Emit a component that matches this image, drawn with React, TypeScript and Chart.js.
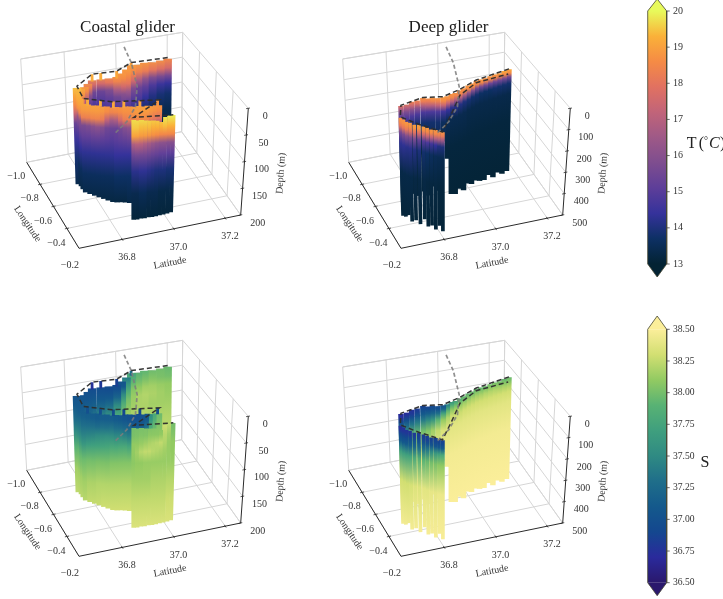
import React, { useEffect, useRef } from "react";
import { Chart, registerables } from "chart.js";

Chart.register(...registerables);

// ---------- axis ticks ----------
const latTicks = [36.8, 37.0, 37.2];
const lonTicks = [-1.0, -0.8, -0.6, -0.4];
const lonLabels = [-1.0, -0.8, -0.6, -0.4, -0.2];
const coastalDepthTicks = [0, 50, 100, 150, 200];
const deepDepthTicks = [0, 100, 200, 300, 400, 500];
const tempTicks = [13, 14, 15, 16, 17, 18, 19, 20];
const salTicks = [36.5, 36.75, 37.0, 37.25, 37.5, 37.75, 38.0, 38.25, 38.5];

// ---------- coast and glider tracks ----------
const coastLat = [37.019, 37.001, 36.957, 36.9, 36.834, 36.766];
const coastLon = [-0.955, -0.804, -0.579, -0.402, -0.279, -0.191];
const coastalTrackLat = [37.137, 37.001, 36.929, 36.838, 36.757, 36.748, 36.835, 36.996, 36.868, 37.002];
const coastalTrackLon = [-0.795, -0.804, -0.749, -0.758, -0.672, -0.552, -0.481, -0.427, -0.308, -0.272];
const deepTrackLat = [37.17, 37.031, 36.952, 36.878, 36.809, 36.717, 36.687, 36.73, 36.789, 36.864, 36.938, 37.024, 37.153];
const deepTrackLon = [-0.665, -0.613, -0.554, -0.513, -0.536, -0.498, -0.394, -0.301, -0.198, -0.35, -0.502, -0.589, -0.62];

// ---------- coastal glider sections ----------
const coastalLevels = [0, 20, 35, 50, 70, 100, 140, 190];

const coastalFarLat = [37.137, 37.11, 37.08, 37.05, 37.025, 37.001, 36.977, 36.953, 36.929, 36.9, 36.87, 36.838, 36.815, 36.795, 36.775, 36.757];
const coastalFarLon = [-0.795, -0.797, -0.799, -0.801, -0.803, -0.804, -0.786, -0.767, -0.749, -0.752, -0.755, -0.758, -0.734, -0.71, -0.69, -0.672];
const coastalFarStart = [2, 4, 5, 4, 6, 5, 8, 10, 11, 12, 12, 12, 12, 12, 10, 3];
const coastalFarMax = [170, 172, 175, 175, 178, 178, 180, 180, 182, 182, 182, 184, 184, 185, 185, 185];
const coastalFarT = [
  [18.6, 17.6, 15.6, 14.4, 13.8, 13.4, 13.2, 13.1],
  [18.8, 17.8, 15.7, 14.5, 13.9, 13.4, 13.2, 13.1],
  [18.8, 18.0, 15.8, 14.8, 14.1, 13.5, 13.2, 13.1],
  [18.9, 18.2, 16.2, 15.2, 14.4, 13.6, 13.3, 13.2],
  [19.0, 18.3, 16.8, 15.4, 14.8, 14.0, 13.5, 13.2],
  [19.0, 18.5, 17.6, 15.8, 15.0, 14.2, 13.6, 13.2],
  [19.1, 18.6, 18.0, 16.5, 15.2, 14.3, 13.7, 13.3],
  [19.1, 18.6, 17.6, 16.0, 15.2, 14.3, 13.7, 13.3],
  [19.1, 18.4, 16.8, 15.5, 15.0, 14.3, 13.7, 13.3],
  [19.0, 18.0, 15.8, 15.2, 14.8, 14.2, 13.7, 13.3],
  [19.0, 17.6, 15.4, 15.0, 14.7, 14.2, 13.7, 13.3],
  [19.1, 17.6, 15.5, 15.0, 14.7, 14.2, 13.7, 13.3],
  [19.2, 18.2, 16.0, 15.2, 14.8, 14.3, 13.7, 13.3],
  [19.3, 18.6, 17.0, 15.4, 14.9, 14.3, 13.8, 13.3],
  [19.4, 18.8, 17.8, 15.8, 15.0, 14.4, 13.8, 13.3],
  [19.5, 19.0, 18.6, 17.5, 15.4, 14.5, 13.8, 13.3],
];
const coastalFarS = [
  [37.95, 38.0, 38.1, 38.12, 38.15, 38.2, 38.25, 38.3],
  [37.98, 38.02, 38.12, 38.15, 38.15, 38.2, 38.25, 38.3],
  [37.95, 38.05, 38.15, 38.18, 38.15, 38.2, 38.25, 38.3],
  [37.9, 38.02, 38.15, 38.2, 38.18, 38.2, 38.25, 38.3],
  [37.85, 37.98, 38.1, 38.18, 38.18, 38.2, 38.25, 38.3],
  [37.7, 37.9, 38.05, 38.12, 38.15, 38.2, 38.25, 38.3],
  [37.2, 37.6, 37.85, 38.0, 38.1, 38.2, 38.25, 38.3],
  [36.95, 37.1, 37.5, 37.8, 38.0, 38.15, 38.25, 38.3],
  [36.9, 37.0, 37.2, 37.5, 37.8, 38.1, 38.2, 38.3],
  [36.92, 36.98, 37.1, 37.3, 37.6, 38.0, 38.2, 38.3],
  [36.9, 37.0, 37.1, 37.25, 37.5, 37.95, 38.2, 38.3],
  [36.88, 37.0, 37.1, 37.2, 37.4, 37.9, 38.15, 38.25],
  [36.95, 37.02, 37.12, 37.2, 37.4, 37.85, 38.15, 38.25],
  [36.98, 37.05, 37.15, 37.25, 37.4, 37.85, 38.15, 38.25],
  [37.0, 37.08, 37.15, 37.25, 37.45, 37.85, 38.15, 38.25],
  [37.02, 37.1, 37.2, 37.3, 37.5, 37.9, 38.15, 38.25],
];

const coastalMidLat = [36.755, 36.75, 36.748, 36.762, 36.777, 36.791, 36.806, 36.82, 36.835, 36.85, 36.865, 36.88, 36.895, 36.91, 36.925, 36.94, 36.955, 36.97, 36.983, 36.996];
const coastalMidLon = [-0.64, -0.595, -0.552, -0.54, -0.528, -0.516, -0.504, -0.493, -0.481, -0.476, -0.471, -0.466, -0.46, -0.455, -0.45, -0.445, -0.44, -0.435, -0.431, -0.427];
const coastalMidStart = [6, 9, 10, 10, 11, 10, 11, 10, 11, 10, 11, 10, 10, 11, 10, 11, 10, 11, 10, 10];
const coastalMidMax = [182, 178, 175, 177, 179, 181, 183, 185, 187, 188, 188, 189, 190, 190, 190, 189, 188, 187, 186, 185];
const coastalMidT = [
  [19.4, 19.1, 18.7, 16.4, 15.3, 14.4, 13.6, 13.2],
  [19.3, 19.0, 18.5, 16.0, 15.3, 14.4, 13.6, 13.2],
  [19.2, 18.9, 18.3, 15.7, 15.2, 14.3, 13.6, 13.2],
  [19.2, 18.9, 18.3, 15.8, 15.2, 14.3, 13.6, 13.2],
  [19.2, 18.9, 18.4, 16.0, 15.3, 14.3, 13.6, 13.2],
  [19.1, 18.9, 18.4, 16.1, 15.3, 14.3, 13.6, 13.2],
  [19.1, 18.8, 18.2, 15.9, 15.2, 14.3, 13.6, 13.2],
  [19.0, 18.6, 17.2, 15.5, 15.1, 14.3, 13.6, 13.2],
  [19.0, 18.4, 16.6, 15.4, 15.0, 14.3, 13.6, 13.2],
  [19.0, 18.5, 16.8, 15.4, 15.1, 14.4, 13.7, 13.2],
  [19.0, 18.6, 17.6, 15.6, 15.2, 14.4, 13.7, 13.2],
  [19.0, 18.7, 18.2, 15.9, 15.3, 14.4, 13.7, 13.2],
  [19.0, 18.7, 18.3, 16.1, 15.4, 14.4, 13.7, 13.3],
  [19.1, 18.8, 18.4, 16.4, 15.5, 14.5, 13.7, 13.3],
  [19.1, 18.9, 18.5, 16.8, 15.6, 14.6, 13.7, 13.3],
  [19.1, 18.9, 18.5, 16.9, 15.7, 14.6, 13.7, 13.3],
  [19.1, 18.9, 18.5, 16.6, 15.5, 14.5, 13.6, 13.3],
  [19.0, 18.8, 18.2, 16.1, 15.3, 14.3, 13.6, 13.2],
  [19.0, 18.7, 18.0, 15.9, 15.1, 14.2, 13.5, 13.2],
  [18.9, 18.6, 17.8, 15.7, 15.0, 14.0, 13.5, 13.2],
];
const coastalMidS = [
  [37.05, 37.12, 37.2, 37.35, 37.55, 37.95, 38.15, 38.25],
  [37.05, 37.15, 37.28, 37.4, 37.6, 37.95, 38.15, 38.25],
  [37.08, 37.18, 37.3, 37.42, 37.62, 37.98, 38.15, 38.25],
  [37.1, 37.16, 37.3, 37.44, 37.68, 38.0, 38.18, 38.28],
  [37.1, 37.14, 37.3, 37.46, 37.7, 38.0, 38.18, 38.28],
  [37.1, 37.12, 37.28, 37.5, 37.72, 38.02, 38.2, 38.28],
  [37.12, 37.15, 37.32, 37.52, 37.74, 38.02, 38.2, 38.3],
  [37.12, 37.15, 37.32, 37.55, 37.76, 38.02, 38.2, 38.3],
  [37.1, 37.15, 37.35, 37.55, 37.8, 38.05, 38.2, 38.3],
  [37.08, 37.12, 37.3, 37.5, 37.78, 38.05, 38.2, 38.3],
  [37.04, 37.1, 37.28, 37.5, 37.8, 38.05, 38.2, 38.3],
  [37.0, 37.06, 37.24, 37.46, 37.8, 38.05, 38.2, 38.3],
  [36.98, 37.02, 37.2, 37.4, 37.75, 38.05, 38.2, 38.3],
  [36.95, 37.0, 37.14, 37.36, 37.75, 38.05, 38.2, 38.28],
  [36.95, 37.0, 37.12, 37.4, 37.85, 38.1, 38.2, 38.3],
  [36.96, 37.02, 37.15, 37.5, 37.9, 38.1, 38.2, 38.3],
  [37.0, 37.08, 37.3, 37.7, 37.95, 38.1, 38.2, 38.3],
  [37.4, 37.6, 37.8, 37.95, 38.02, 38.12, 38.2, 38.3],
  [37.7, 37.85, 37.95, 38.02, 38.06, 38.14, 38.22, 38.3],
  [37.95, 38.0, 38.05, 38.08, 38.1, 38.15, 38.22, 38.3],
];

const coastalNearLat = [36.868, 36.881, 36.895, 36.908, 36.922, 36.935, 36.948, 36.962, 36.975, 36.989, 37.002];
const coastalNearLon = [-0.308, -0.304, -0.301, -0.297, -0.294, -0.29, -0.286, -0.283, -0.279, -0.276, -0.272];
const coastalNearStart = [5, 6, 6, 7, 8, 8, 9, 12, 3, 1, 0];
const coastalNearMax = [188, 188, 187, 187, 186, 186, 185, 184, 183, 182, 180];
const coastalNearT = [
  [19.8, 19.5, 19.0, 16.8, 15.5, 14.2, 13.4, 13.1],
  [19.8, 19.5, 19.0, 17.0, 15.6, 14.2, 13.4, 13.1],
  [19.8, 19.4, 18.9, 17.0, 15.6, 14.3, 13.5, 13.1],
  [19.8, 19.4, 18.9, 16.8, 15.6, 14.3, 13.5, 13.1],
  [19.7, 19.4, 18.8, 16.6, 15.5, 14.2, 13.4, 13.1],
  [19.7, 19.3, 18.7, 16.4, 15.4, 14.1, 13.4, 13.1],
  [19.7, 19.3, 18.6, 16.2, 15.3, 14.0, 13.4, 13.1],
  [19.7, 19.3, 18.5, 16.1, 15.2, 14.0, 13.3, 13.1],
  [19.9, 19.4, 18.5, 16.1, 15.2, 14.0, 13.3, 13.1],
  [19.9, 19.3, 18.5, 16.0, 15.1, 13.9, 13.3, 13.1],
  [19.9, 19.3, 18.5, 16.0, 15.1, 13.9, 13.3, 13.1],
];
const coastalNearS = [
  [38.0, 38.02, 38.1, 38.1, 38.08, 38.15, 38.25, 38.35],
  [38.0, 38.03, 38.1, 38.15, 38.1, 38.15, 38.25, 38.35],
  [38.0, 38.05, 38.12, 38.22, 38.1, 38.15, 38.25, 38.35],
  [38.02, 38.05, 38.15, 38.25, 38.12, 38.15, 38.25, 38.35],
  [38.02, 38.08, 38.18, 38.25, 38.12, 38.15, 38.25, 38.35],
  [38.03, 38.08, 38.2, 38.22, 38.12, 38.18, 38.25, 38.35],
  [38.05, 38.08, 38.22, 38.2, 38.12, 38.18, 38.25, 38.35],
  [38.05, 38.1, 38.25, 38.18, 38.12, 38.18, 38.25, 38.35],
  [38.3, 38.22, 38.2, 38.15, 38.12, 38.18, 38.25, 38.35],
  [38.25, 38.15, 38.12, 38.12, 38.12, 38.2, 38.28, 38.35],
  [38.0, 38.05, 38.1, 38.1, 38.12, 38.2, 38.28, 38.35],
];

// narrow surface profiles standing above the coastal sections
const coastalSpikeLat = [36.838, 36.87, 36.929, 37.0, 36.76, 36.8, 36.84, 36.875, 36.93, 36.99];
const coastalSpikeLon = [-0.758, -0.755, -0.749, -0.804, -0.54, -0.51, -0.48, -0.467, -0.45, -0.43];
const coastalSpikeEnd = [14, 14, 14, 10, 12, 12, 12, 12, 12, 12];
const coastalSpikeT = [19.2, 19.2, 19.1, 19.0, 19.2, 19.2, 19.1, 19.1, 19.1, 18.8];
const coastalSpikeS = [36.75, 36.8, 36.85, 37.3, 37.0, 37.0, 36.95, 36.9, 36.9, 36.95];

// ---------- deep glider sections ----------
const deepLevels = [0, 20, 40, 70, 120, 250, 500];

const deepFarLat = [37.17, 37.15, 37.13, 37.11, 37.09, 37.07, 37.05, 37.031, 37.012, 36.992, 36.972, 36.952, 36.932, 36.914, 36.896, 36.878, 36.86, 36.842, 36.826, 36.809, 36.785, 36.762, 36.74, 36.717];
const deepFarLon = [-0.665, -0.658, -0.651, -0.644, -0.636, -0.628, -0.62, -0.613, -0.599, -0.584, -0.569, -0.554, -0.544, -0.534, -0.524, -0.513, -0.519, -0.527, -0.532, -0.536, -0.527, -0.517, -0.507, -0.498];
const deepFarStart = [2, 3, 6, 4, 5, 6, 4, 5, 6, 4, 6, 5, 8, 5, 7, 3, 6, 3, 7, 3, 5, 2, 6, 3];
const deepFarMax = [495, 500, 485, 500, 480, 495, 490, 480, 485, 470, 490, 470, 485, 475, 300, 210, 440, 420, 460, 440, 450, 430, 440, 450];
const deepFarT = [
  [19.2, 18.6, 15.5, 13.8, 13.35, 13.15, 13.05],
  [19.3, 18.6, 15.6, 13.8, 13.35, 13.15, 13.05],
  [19.2, 18.5, 15.5, 13.8, 13.35, 13.15, 13.05],
  [19.0, 18.4, 15.4, 13.8, 13.35, 13.15, 13.05],
  [19.0, 18.4, 15.4, 13.7, 13.35, 13.15, 13.05],
  [18.9, 18.4, 15.5, 13.7, 13.35, 13.15, 13.05],
  [18.9, 18.5, 15.5, 13.7, 13.35, 13.15, 13.05],
  [18.9, 18.5, 15.7, 13.8, 13.35, 13.15, 13.05],
  [18.9, 18.6, 15.9, 13.8, 13.35, 13.15, 13.05],
  [18.9, 18.6, 16.2, 13.9, 13.35, 13.15, 13.05],
  [18.8, 18.6, 16.5, 14.0, 13.4, 13.15, 13.05],
  [18.8, 18.5, 16.8, 14.1, 13.4, 13.15, 13.05],
  [18.8, 18.5, 17.0, 14.2, 13.4, 13.15, 13.05],
  [18.8, 18.5, 17.0, 14.2, 13.4, 13.15, 13.05],
  [18.9, 18.6, 17.2, 14.4, 13.5, 13.15, 13.05],
  [18.9, 18.6, 17.4, 14.6, 13.6, 13.2, 13.05],
  [18.9, 18.4, 17.2, 14.8, 13.8, 13.2, 13.05],
  [18.9, 18.4, 17.0, 14.8, 13.8, 13.2, 13.05],
  [18.8, 18.2, 17.0, 14.8, 13.8, 13.2, 13.05],
  [18.8, 18.2, 16.8, 14.8, 13.8, 13.2, 13.05],
  [18.6, 17.8, 16.2, 14.8, 13.8, 13.2, 13.05],
  [18.4, 17.4, 16.0, 14.8, 13.8, 13.2, 13.05],
  [18.2, 17.0, 15.8, 14.8, 13.8, 13.2, 13.05],
  [18.0, 16.8, 15.6, 14.8, 13.8, 13.2, 13.05],
];
const deepFarS = [
  [37.95, 38.05, 38.18, 38.3, 38.38, 38.46, 38.5],
  [37.92, 38.05, 38.18, 38.3, 38.38, 38.46, 38.5],
  [37.95, 38.06, 38.18, 38.3, 38.38, 38.46, 38.5],
  [37.98, 38.08, 38.2, 38.3, 38.38, 38.46, 38.5],
  [37.95, 38.08, 38.2, 38.3, 38.38, 38.46, 38.5],
  [37.9, 38.06, 38.2, 38.3, 38.38, 38.46, 38.5],
  [37.9, 38.05, 38.18, 38.3, 38.38, 38.46, 38.5],
  [37.88, 38.05, 38.18, 38.3, 38.38, 38.46, 38.5],
  [37.9, 38.05, 38.18, 38.3, 38.38, 38.46, 38.5],
  [37.88, 38.02, 38.18, 38.3, 38.38, 38.46, 38.5],
  [37.85, 38.0, 38.16, 38.3, 38.38, 38.46, 38.5],
  [37.8, 37.98, 38.14, 38.28, 38.38, 38.46, 38.5],
  [37.65, 37.9, 38.1, 38.28, 38.38, 38.46, 38.5],
  [37.55, 37.85, 38.08, 38.28, 38.38, 38.46, 38.5],
  [37.3, 37.6, 37.95, 38.2, 38.36, 38.46, 38.5],
  [37.0, 37.2, 37.7, 38.1, 38.34, 38.46, 38.5],
  [36.95, 37.0, 37.3, 37.9, 38.25, 38.45, 38.5],
  [36.9, 37.0, 37.2, 37.6, 38.15, 38.42, 38.5],
  [36.85, 36.95, 37.15, 37.5, 38.05, 38.4, 38.48],
  [36.85, 36.95, 37.1, 37.4, 38.0, 38.38, 38.48],
  [36.8, 36.85, 37.05, 37.4, 37.95, 38.38, 38.48],
  [36.75, 36.8, 37.0, 37.35, 37.95, 38.38, 38.48],
  [36.7, 36.78, 36.95, 37.3, 37.9, 38.38, 38.48],
  [36.7, 36.75, 36.9, 37.25, 37.85, 38.38, 38.48],
];

const deepNearLat = [36.687, 36.692, 36.698, 36.706, 36.717, 36.73, 36.742, 36.75, 36.76, 36.77, 36.78, 36.789];
const deepNearLon = [-0.394, -0.37, -0.35, -0.332, -0.315, -0.301, -0.282, -0.262, -0.245, -0.228, -0.212, -0.198];
const deepNearStart = [4, 2, 5, 3, 6, 2, 4, 3, 5, 2, 4, 2];
const deepNearMax = [452, 445, 430, 452, 440, 454, 425, 450, 440, 452, 430, 450];
const deepNearT = [
  [18.8, 18.6, 18.0, 15.6, 14.3, 13.3, 13.05],
  [18.8, 18.6, 18.0, 15.7, 14.3, 13.3, 13.05],
  [18.9, 18.7, 18.1, 15.8, 14.2, 13.3, 13.05],
  [18.9, 18.7, 18.0, 15.7, 14.2, 13.3, 13.05],
  [19.0, 18.8, 18.0, 15.8, 14.1, 13.25, 13.05],
  [19.0, 18.8, 17.8, 15.4, 14.0, 13.25, 13.05],
  [19.0, 18.7, 17.6, 15.0, 13.8, 13.25, 13.05],
  [18.9, 18.6, 17.4, 14.8, 13.7, 13.2, 13.05],
  [18.9, 18.6, 17.2, 14.6, 13.6, 13.2, 13.05],
  [18.8, 18.5, 17.0, 14.4, 13.5, 13.2, 13.05],
  [18.8, 18.3, 16.8, 14.1, 13.45, 13.15, 13.05],
  [18.8, 18.2, 16.5, 14.0, 13.4, 13.15, 13.05],
];
const deepNearS = [
  [36.7, 36.75, 36.9, 37.1, 37.7, 38.3, 38.5],
  [36.72, 36.78, 36.9, 37.1, 37.7, 38.3, 38.5],
  [36.75, 36.8, 36.92, 37.12, 37.72, 38.3, 38.5],
  [36.75, 36.8, 36.95, 37.15, 37.75, 38.32, 38.5],
  [36.78, 36.82, 36.98, 37.2, 37.8, 38.35, 38.5],
  [36.8, 36.85, 37.0, 37.25, 37.85, 38.35, 38.5],
  [36.8, 36.85, 37.0, 37.3, 37.9, 38.38, 38.5],
  [36.82, 36.85, 37.02, 37.4, 37.95, 38.38, 38.5],
  [36.82, 36.88, 37.05, 37.5, 38.0, 38.4, 38.5],
  [36.85, 36.9, 37.05, 37.6, 38.02, 38.4, 38.5],
  [36.85, 36.9, 37.08, 37.7, 38.08, 38.42, 38.5],
  [36.85, 36.9, 37.1, 37.8, 38.1, 38.42, 38.5],
];

// ---------- colour maps (style) ----------
const thermal = ["#032333", "#0d3064", "#35329b", "#5d3e99", "#7e4d8f", "#9e5987", "#c16479", "#e17161", "#f58b45", "#fab139", "#e8fa5b"];
const haline = ["#2a186c", "#2a2a9c", "#14478f", "#14598c", "#1f6e8a", "#2f8a83", "#3f9f7e", "#58b274", "#92ca62", "#d2df72", "#fbee9a"];

const hex = (h: string) => [1, 3, 5].map((i) => parseInt(h.slice(i, i + 2), 16));
function colourAt(value: number, lo: number, hi: number, map: string[]) {
  const t = Math.max(0, Math.min(1, (value - lo) / (hi - lo))) * (map.length - 1);
  const i = Math.min(map.length - 2, Math.floor(t));
  const a = hex(map[i]);
  const b = hex(map[i + 1]);
  const f = t - i;
  return `rgb(${a.map((v, k) => Math.round(v + (b[k] - v) * f)).join(",")})`;
}

// ---------- 3-D box layout (pixel corners of the first panel) ----------
const LAT0 = 36.632, LAT1 = 37.26, LON0 = -1.0, LON1 = -0.22;
const TOP = { c: [20.7, 59], d: [182.7, 32.3], a: [75.7, 136.7], b: [248.3, 108.3] };
const BOT = { c: [26.7, 162.3], d: [181.7, 131.7], a: [79, 248.3], b: [240.7, 215] };

type Panel = { ox: number; oy: number; zMax: number };
const lerp = (p: number, q: number, t: number) => p + (q - p) * t;
function project(panel: Panel, lat: number, lon: number, depth: number) {
  const u = (lat - LAT0) / (LAT1 - LAT0);
  const v = (lon - LON0) / (LON1 - LON0);
  const w = depth / panel.zMax;
  const out = [0, 1].map((k) => {
    const top = lerp(lerp(TOP.c[k], TOP.d[k], u), lerp(TOP.a[k], TOP.b[k], u), v);
    const bot = lerp(lerp(BOT.c[k], BOT.d[k], u), lerp(BOT.a[k], BOT.b[k], u), v);
    return lerp(top, bot, w);
  });
  return { x: out[0] + panel.ox, y: out[1] + panel.oy };
}

export default function App() {
  const ref = useRef<HTMLCanvasElement>(null);
  useEffect(() => {
    document.body.style.margin = "0";
    const canvas = ref.current!;
    const g = canvas.getContext("2d")!;
    const ds: any[] = [];
    const line = (data: any[], color: any, width: number, extra: any = {}) =>
      ds.push({ data, borderColor: color, borderWidth: width, pointRadius: 0, tension: 0, fill: false, borderCapStyle: "butt", ...extra });

    const frame = (p: Panel, depthTicks: number[]) => {
      const grid = "#d6d6d6";
      const seg = (a: number[], b: number[]) => line([project(p, a[0], a[1], a[2]), project(p, b[0], b[1], b[2])], grid, 1);
      const zb = p.zMax;
      depthTicks.forEach((d) => {
        seg([LAT0, LON0, d], [LAT1, LON0, d]);
        seg([LAT1, LON0, d], [LAT1, LON1, d]);
      });
      [LAT0, ...latTicks].forEach((la) => {
        seg([la, LON0, 0], [la, LON0, zb]);
        seg([la, LON0, zb], [la, LON1, zb]);
      });
      [LAT1].forEach((la) => seg([la, LON0, 0], [la, LON0, zb]));
      lonTicks.forEach((lo) => {
        seg([LAT1, lo, 0], [LAT1, lo, zb]);
        seg([LAT0, lo, zb], [LAT1, lo, zb]);
      });
      seg([LAT0, LON0, 0], [LAT1, LON0, 0]);
      seg([LAT1, LON0, zb], [LAT1, LON1, zb]);
      // dark axes
      const dark = "#2b2b2b";
      const axis = (a: number[], b: number[], w = 1) => line([project(p, a[0], a[1], a[2]), project(p, b[0], b[1], b[2])], dark, w);
      axis([LAT0, LON0, zb], [LAT0, LON1, zb]);
      axis([LAT0, LON1, zb], [LAT1, LON1, zb]);
      axis([LAT1, LON1, zb], [LAT1, LON1, 0]);
      latTicks.forEach((la) => axis([la, LON1 - 0.012, zb], [la, LON1 + 0.012, zb], 0.8));
      lonLabels.slice(1, 4).forEach((lo) => axis([LAT0 - 0.008, lo, zb], [LAT0 + 0.008, lo, zb], 0.8));
      depthTicks.forEach((d) => axis([LAT1 - 0.008, LON1, d], [LAT1 + 0.006, LON1, d], 0.8));
    };

    const curtain = (p: Panel, lats: number[], lons: number[], starts: number[], maxes: number[], levels: number[], rows: number[][], lo: number, hi: number, map: string[], width: number) => {
      lats.forEach((la, i) => {
        const last = levels[levels.length - 1];
        const y0 = project(p, la, lons[i], 0).y;
        const y1 = project(p, la, lons[i], last).y;
        const grad = g.createLinearGradient(0, y0, 0, y1);
        levels.forEach((lv, k) => grad.addColorStop(lv / last, colourAt(rows[i][k], lo, hi, map)));
        line([project(p, la, lons[i], starts[i]), project(p, la, lons[i], maxes[i])], grad, width);
      });
    };

    const tracks = (p: Panel, lat: number[], lon: number[]) => {
      line(lat.map((la, i) => project(p, la, lon[i], 0)), "rgba(45,45,45,0.95)", 1.5, { borderDash: [5, 3] });
      line(coastLat.map((la, i) => project(p, la, coastLon[i], 0)), "rgba(125,125,125,0.85)", 1.7, { borderDash: [4, 2.5] });
    };

    const coastal = (p: Panel, far: number[][], mid: number[][], near: number[][], spike: number[], lo: number, hi: number, map: string[]) => {
      frame(p, coastalDepthTicks);
      curtain(p, coastalFarLat, coastalFarLon, coastalFarStart, coastalFarMax, coastalLevels, far, lo, hi, map, 8.6);
      curtain(p, coastalMidLat, coastalMidLon, coastalMidStart, coastalMidMax, coastalLevels, mid, lo, hi, map, 5.6);
      coastalSpikeLat.forEach((la, i) => {
        line([project(p, la, coastalSpikeLon[i], 0), project(p, la, coastalSpikeLon[i], coastalSpikeEnd[i])], colourAt(spike[i], lo, hi, map), 2.8);
      });
      curtain(p, coastalNearLat, coastalNearLon, coastalNearStart, coastalNearMax, coastalLevels, near, lo, hi, map, 4.4);
      tracks(p, coastalTrackLat, coastalTrackLon);
    };
    const deep = (p: Panel, far: number[][], near: number[][], lo: number, hi: number, map: string[]) => {
      frame(p, deepDepthTicks);
      curtain(p, deepFarLat, deepFarLon, deepFarStart, deepFarMax, deepLevels, far, lo, hi, map, 5.5);
      curtain(p, deepNearLat, deepNearLon, deepNearStart, deepNearMax, deepLevels, near, lo, hi, map, 3.7);
      tracks(p, deepTrackLat, deepTrackLon);
    };

    const P1: Panel = { ox: 0, oy: 0, zMax: 200 };
    const P2: Panel = { ox: 322, oy: 0, zMax: 500 };
    const P3: Panel = { ox: 0, oy: 308, zMax: 200 };
    const P4: Panel = { ox: 322, oy: 308, zMax: 500 };
    coastal(P1, coastalFarT, coastalMidT, coastalNearT, coastalSpikeT, 13, 20, thermal);
    deep(P2, deepFarT, deepNearT, 13, 20, thermal);
    coastal(P3, coastalFarS, coastalMidS, coastalNearS, coastalSpikeS, 36.5, 38.5, haline);
    deep(P4, deepFarS, deepNearS, 36.5, 38.5, haline);

    // colour bars
    const XL = 647.7, XR = 666.7, XM = 657.2;
    const bar = (yTop: number, yBot: number, tipTop: number, tipBot: number, map: string[], ticks: number[]) => {
      const grad = g.createLinearGradient(0, yBot, 0, yTop);
      map.forEach((c, i) => grad.addColorStop(i / (map.length - 1), c));
      line([{ x: XM, y: yTop }, { x: XM, y: yBot }], grad, XR - XL);
      line([{ x: XL, y: yTop }, { x: XM, y: tipTop }, { x: XR, y: yTop }], "rgba(0,0,0,0)", 0, { fill: { value: yTop }, backgroundColor: map[map.length - 1] });
      line([{ x: XL, y: yBot }, { x: XM, y: tipBot }, { x: XR, y: yBot }], "rgba(0,0,0,0)", 0, { fill: { value: yBot }, backgroundColor: map[0] });
      line([{ x: XL, y: yTop }, { x: XM, y: tipTop }, { x: XR, y: yTop }, { x: XR, y: yBot }, { x: XM, y: tipBot }, { x: XL, y: yBot }, { x: XL, y: yTop }], "rgba(70,70,50,0.8)", 1);
      const lo = ticks[0], hi = ticks[ticks.length - 1];
      ticks.forEach((t) => {
        const y = lerp(yBot, yTop, (t - lo) / (hi - lo));
        line([{ x: XR, y }, { x: XR + 3, y }], "#444", 0.8);
      });
    };
    bar(11, 264, -1, 277, thermal, tempTicks);
    bar(329.3, 582.7, 316, 595.7, haline, salTicks);

    ds.forEach((d, i) => (d.order = -i));

    const textPlugin = {
      id: "texts",
      afterDatasetsDraw(chart: any) {
        const c = chart.ctx;
        const serif = '"Liberation Serif"';
        const put = (s: string, x: number, y: number, size = 10, rot = 0, colour = "#333", align: CanvasTextAlign = "center", style = "") => {
          c.save();
          c.translate(x, y);
          c.rotate((rot * Math.PI) / 180);
          c.font = `${style} ${size}px ${serif}`;
          c.fillStyle = colour;
          c.textAlign = align;
          c.textBaseline = "middle";
          c.fillText(s, 0, 0);
          c.restore();
        };
        const lab = (p: Panel, depthTicks: number[]) => {
          latTicks.forEach((la) => {
            const q = project(p, la, LON1, p.zMax);
            put(la.toFixed(1), q.x + 4.7, q.y + 18.2);
          });
          lonLabels.forEach((lo) => {
            const q = project(p, LAT0, lo, p.zMax);
            put("\u2212" + Math.abs(lo).toFixed(1), q.x - 10.5, q.y + 14.5);
          });
          depthTicks.forEach((d) => {
            const q = project(p, LAT1, LON1, d);
            put(String(d), q.x + 17, q.y + 8);
          });
          put("Latitude", p.ox + 170, p.oy + 263, 10, -11);
          put("Longitude", p.ox + 27.3, p.oy + 224, 10, 56);
          put("Depth (m)", p.ox + 281, p.oy + 173.3, 10, -86);
        };
        [P1, P3].forEach((p) => lab(p, coastalDepthTicks));
        [P2, P4].forEach((p) => lab(p, deepDepthTicks));
        put("Coastal glider", 127.5, 27.5, 17, 0, "#1a1a1a");
        put("Deep glider", 448.5, 27.5, 17, 0, "#1a1a1a");
        tempTicks.forEach((t, i) => put(String(t), 673, lerp(264, 11, i / (tempTicks.length - 1)), 10, 0, "#333", "left"));
        salTicks.forEach((t, i) => put(t.toFixed(2), 673, lerp(582.7, 329.3, i / (salTicks.length - 1)), 9.6, 0, "#333", "left"));
        put("T", 686.7, 144, 16, 0, "#222", "left");
        put("(", 698.7, 144, 16, 0, "#222", "left");
        put("\u00b0", 704, 141, 10, 0, "#222", "left");
        put("C", 709, 144, 16, 0, "#222", "left", "italic");
        put(")", 720, 144, 16, 0, "#222", "left");
        put("S", 705, 462.7, 16, 0, "#222");
      },
    };

    const chart = new Chart(canvas, {
      type: "line",
      data: { datasets: ds },
      options: {
        animation: false,
        responsive: false,
        maintainAspectRatio: false,
        devicePixelRatio: 1,
        events: [],
        layout: { padding: 0 },
        plugins: { legend: { display: false }, title: { display: false }, tooltip: { enabled: false } },
        scales: {
          x: { type: "linear", min: 0, max: 723, display: false },
          y: { type: "linear", min: 0, max: 599, reverse: true, display: false },
        },
      },
      plugins: [textPlugin],
    } as any);
    return () => chart.destroy();
  }, []);
  return <canvas ref={ref} width={723} height={599} style={{ display: "block", width: 723, height: 599, filter: "blur(0.5px)" }} />;
}
